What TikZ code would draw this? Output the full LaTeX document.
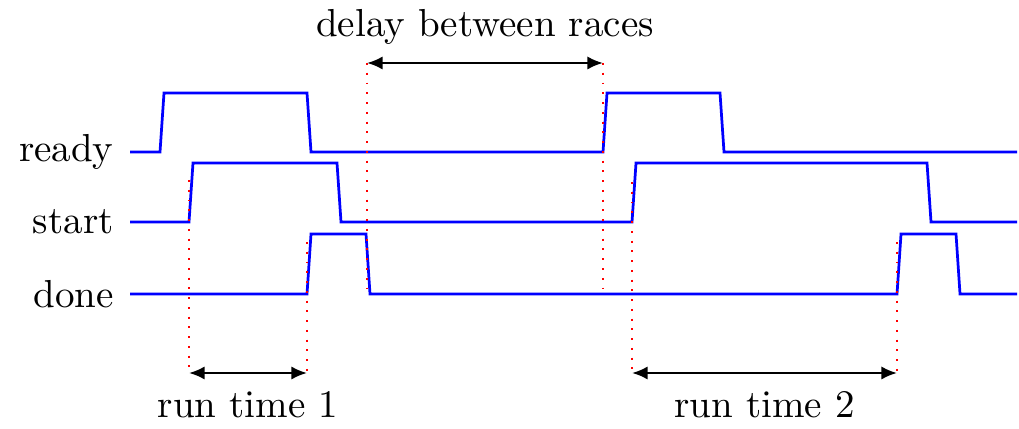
\documentclass[tikz,border=0pt]{standalone}
\usetikzlibrary{arrows.meta,positioning,calc}
\begin{document}
\begin{tikzpicture}[
  x=0.9cm,y=0.9cm,>={Latex[length=4pt,width=3.4pt]},
  sig/.style={blue,line width=.7pt},
  edgeline/.style={red,dotted,line width=.5pt},
  span/.style={<->,line width=.6pt},
  lbl/.style={anchor=east,inner sep=4pt}]
\useasboundingbox (0,0) rectangle (10.19,-4.29);
% signal names
\node[lbl] (ready) at (1.30,-1.52) {ready};
\node[lbl] (start) at (1.30,-2.22) {start};
\node[lbl] (done) at (1.30,-2.94) {done};
% waveforms
\draw[sig] (ready.east)--(1.60,-1.52)--(1.64,-0.93)--(3.07,-0.93)--(3.11,-1.52)
 --(6.03,-1.52)--(6.07,-0.93)--(7.20,-0.93)--(7.24,-1.52)--(10.17,-1.52);
\draw[sig] (start.east)--(1.89,-2.22)--(1.93,-1.63)--(3.37,-1.63)--(3.41,-2.22)
 --(6.32,-2.22)--(6.36,-1.63)--(9.27,-1.63)--(9.31,-2.22)--(10.17,-2.22);
\draw[sig] (done.east)--(3.07,-2.94)--(3.11,-2.34)--(3.66,-2.34)--(3.70,-2.94)
 --(8.97,-2.94)--(9.01,-2.34)--(9.56,-2.34)--(9.60,-2.94)--(10.17,-2.94);
% edge markers
\coordinate (s1) at (1.89,-1.80);
\coordinate (e1) at (3.07,-2.42);
\coordinate (s2) at (6.32,-1.82);
\coordinate (e2) at (8.97,-2.42);
\coordinate (a1) at (1.89,-3.73);
\coordinate (b1) at (3.07,-3.73);
\coordinate (a2) at (6.32,-3.73);
\coordinate (b2) at (8.97,-3.73);
\coordinate (d1) at (3.67,-0.63);
\coordinate (d2) at (6.03,-0.63);
\coordinate (f1) at (3.67,-2.88);
\coordinate (f2) at (6.03,-2.88);
\draw[edgeline] (s1)--(a1);
\draw[edgeline] (e1)--(b1);
\draw[edgeline] (s2)--(a2);
\draw[edgeline] (e2)--(b2);
\draw[edgeline] (d1)--(f1);
\draw[edgeline] (d2)--(f2);
% spans
\draw[span] (a1)--node[below=1pt] (run1) {run time 1}(b1);
\draw[span] (a2)--node[below=1pt] (run2) {run time 2}(b2);
\draw[span] (d1)--node[above=1pt] (delay) {delay between races}(d2);
\end{tikzpicture}
\end{document}
